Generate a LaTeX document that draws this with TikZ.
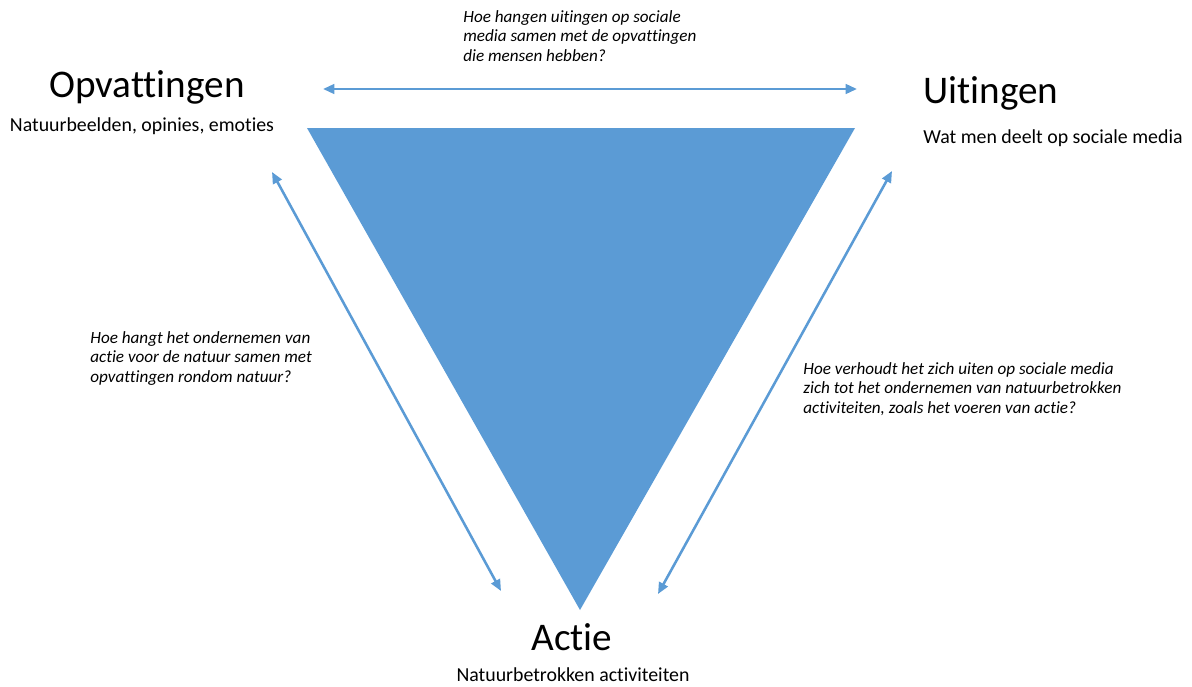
\documentclass[tikz,border=0pt]{standalone}
\usepackage{fontspec}
\setmainfont{Carlito}[Ligatures=NoCommon]
\usetikzlibrary{arrows.meta}
\definecolor{tri}{HTML}{5B9BD5}
\begin{document}
\begin{tikzpicture}[x=0.02cm,y=-0.02cm,
  title/.style={inner sep=0pt,font=\fontsize{22.3}{26}\selectfont},
  sub/.style={inner sep=0pt,font=\fontsize{11.3}{13}\selectfont},
  question/.style={inner sep=0pt,align=left,anchor=north west,font=\fontsize{9.75}{11.2}\selectfont\itshape},
  link/.style={tri,line width=1.45pt,{Triangle[length=6.5pt,width=5.5pt]}-{Triangle[length=6.5pt,width=5.5pt]}}]
\useasboundingbox (0,0) rectangle (1192,686);
% triangle
\fill[tri] (307,128) -- (855,128) -- (580,610) -- cycle;
% arrow ends
\coordinate (tl) at (323,89);
\coordinate (tr) at (857,89);
\coordinate (ll) at (272,172);
\coordinate (lb) at (501,591);
\coordinate (rr) at (892,171);
\coordinate (rb) at (658,594);
\draw[link] (tl) -- (tr);
\draw[link] (ll) -- (lb);
\draw[link] (rr) -- (rb);
% labels
\node[title] (opv) at (147,87) {Opvattingen};
\node[sub] (opvs) at (142,126) {Natuurbeelden, opinies, emoties};
\node[title,anchor=west] (uit) at (923,93) {Uitingen};
\node[sub,anchor=west] (uits) at (923,138) {Wat men deelt op sociale media};
\node[title] (act) at (572,637) {Actie};
\node[sub] (acts) at (573,675) {Natuurbetrokken activiteiten};
\node[question] (q1) at (463,10) {Hoe hangen\ uitingen op sociale\\media samen met de opvattingen\\die mensen hebben?};
\node[question] (q2) at (90,331) {Hoe hangt het ondernemen van\\actie voor de natuur samen met\\opvattingen rondom natuur?};
\node[question] (q3) at (803,362) {Hoe verhoudt het zich uiten op sociale media\\zich tot het ondernemen van natuurbetrokken\\activiteiten, zoals het voeren van actie?};
\end{tikzpicture}
\end{document}
